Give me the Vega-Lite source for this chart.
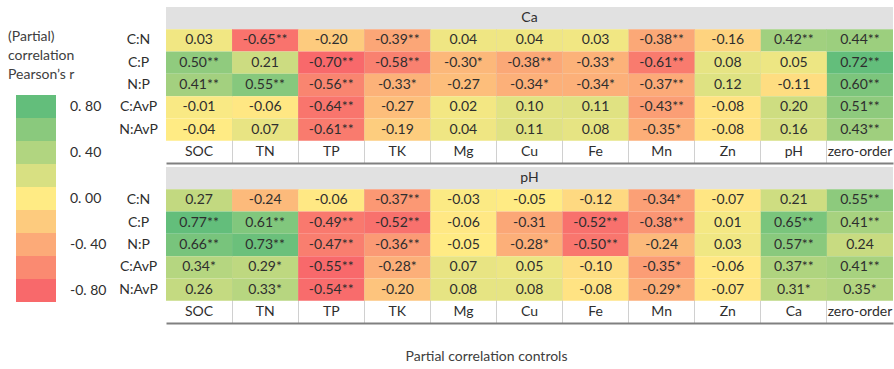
{
  "$schema": "https://vega.github.io/schema/vega-lite/v6.json",
  "background": "white",
  "padding": {"left": 8, "top": 7, "right": 1, "bottom": 5},
  "config": {
    "font": "Lato",
    "view": {"stroke": null},
    "text": {"font": "Lato", "fontSize": 14, "color": "#2e2e2e"},
    "axis": {"labelFont": "Lato"},
    "legend": {"labelFont": "Lato", "titleFont": "Lato"},
    "title": {"font": "Lato"}
  },
  "datasets": {
    "ca": [
      {"ratio": "C:N", "var": "SOC", "r": 0.03, "sig": ""},
      {"ratio": "C:N", "var": "TN", "r": -0.65, "sig": "**"},
      {"ratio": "C:N", "var": "TP", "r": -0.20, "sig": ""},
      {"ratio": "C:N", "var": "TK", "r": -0.39, "sig": "**"},
      {"ratio": "C:N", "var": "Mg", "r": 0.04, "sig": ""},
      {"ratio": "C:N", "var": "Cu", "r": 0.04, "sig": ""},
      {"ratio": "C:N", "var": "Fe", "r": 0.03, "sig": ""},
      {"ratio": "C:N", "var": "Mn", "r": -0.38, "sig": "**"},
      {"ratio": "C:N", "var": "Zn", "r": -0.16, "sig": ""},
      {"ratio": "C:N", "var": "pH", "r": 0.42, "sig": "**"},
      {"ratio": "C:N", "var": "zero-order", "r": 0.44, "sig": "**"},
      {"ratio": "C:P", "var": "SOC", "r": 0.50, "sig": "**"},
      {"ratio": "C:P", "var": "TN", "r": 0.21, "sig": ""},
      {"ratio": "C:P", "var": "TP", "r": -0.70, "sig": "**"},
      {"ratio": "C:P", "var": "TK", "r": -0.58, "sig": "**"},
      {"ratio": "C:P", "var": "Mg", "r": -0.30, "sig": "*"},
      {"ratio": "C:P", "var": "Cu", "r": -0.38, "sig": "**"},
      {"ratio": "C:P", "var": "Fe", "r": -0.33, "sig": "*"},
      {"ratio": "C:P", "var": "Mn", "r": -0.61, "sig": "**"},
      {"ratio": "C:P", "var": "Zn", "r": 0.08, "sig": ""},
      {"ratio": "C:P", "var": "pH", "r": 0.05, "sig": ""},
      {"ratio": "C:P", "var": "zero-order", "r": 0.72, "sig": "**"},
      {"ratio": "N:P", "var": "SOC", "r": 0.41, "sig": "**"},
      {"ratio": "N:P", "var": "TN", "r": 0.55, "sig": "**"},
      {"ratio": "N:P", "var": "TP", "r": -0.56, "sig": "**"},
      {"ratio": "N:P", "var": "TK", "r": -0.33, "sig": "*"},
      {"ratio": "N:P", "var": "Mg", "r": -0.27, "sig": ""},
      {"ratio": "N:P", "var": "Cu", "r": -0.34, "sig": "*"},
      {"ratio": "N:P", "var": "Fe", "r": -0.34, "sig": "*"},
      {"ratio": "N:P", "var": "Mn", "r": -0.37, "sig": "**"},
      {"ratio": "N:P", "var": "Zn", "r": 0.12, "sig": ""},
      {"ratio": "N:P", "var": "pH", "r": -0.11, "sig": ""},
      {"ratio": "N:P", "var": "zero-order", "r": 0.60, "sig": "**"},
      {"ratio": "C:AvP", "var": "SOC", "r": -0.01, "sig": ""},
      {"ratio": "C:AvP", "var": "TN", "r": -0.06, "sig": ""},
      {"ratio": "C:AvP", "var": "TP", "r": -0.64, "sig": "**"},
      {"ratio": "C:AvP", "var": "TK", "r": -0.27, "sig": ""},
      {"ratio": "C:AvP", "var": "Mg", "r": 0.02, "sig": ""},
      {"ratio": "C:AvP", "var": "Cu", "r": 0.10, "sig": ""},
      {"ratio": "C:AvP", "var": "Fe", "r": 0.11, "sig": ""},
      {"ratio": "C:AvP", "var": "Mn", "r": -0.43, "sig": "**"},
      {"ratio": "C:AvP", "var": "Zn", "r": -0.08, "sig": ""},
      {"ratio": "C:AvP", "var": "pH", "r": 0.20, "sig": ""},
      {"ratio": "C:AvP", "var": "zero-order", "r": 0.51, "sig": "**"},
      {"ratio": "N:AvP", "var": "SOC", "r": -0.04, "sig": ""},
      {"ratio": "N:AvP", "var": "TN", "r": 0.07, "sig": ""},
      {"ratio": "N:AvP", "var": "TP", "r": -0.61, "sig": "**"},
      {"ratio": "N:AvP", "var": "TK", "r": -0.19, "sig": ""},
      {"ratio": "N:AvP", "var": "Mg", "r": 0.04, "sig": ""},
      {"ratio": "N:AvP", "var": "Cu", "r": 0.11, "sig": ""},
      {"ratio": "N:AvP", "var": "Fe", "r": 0.08, "sig": ""},
      {"ratio": "N:AvP", "var": "Mn", "r": -0.35, "sig": "*"},
      {"ratio": "N:AvP", "var": "Zn", "r": -0.08, "sig": ""},
      {"ratio": "N:AvP", "var": "pH", "r": 0.16, "sig": ""},
      {"ratio": "N:AvP", "var": "zero-order", "r": 0.43, "sig": "**"}
    ],
    "ph": [
      {"ratio": "C:N", "var": "SOC", "r": 0.27, "sig": ""},
      {"ratio": "C:N", "var": "TN", "r": -0.24, "sig": ""},
      {"ratio": "C:N", "var": "TP", "r": -0.06, "sig": ""},
      {"ratio": "C:N", "var": "TK", "r": -0.37, "sig": "**"},
      {"ratio": "C:N", "var": "Mg", "r": -0.03, "sig": ""},
      {"ratio": "C:N", "var": "Cu", "r": -0.05, "sig": ""},
      {"ratio": "C:N", "var": "Fe", "r": -0.12, "sig": ""},
      {"ratio": "C:N", "var": "Mn", "r": -0.34, "sig": "*"},
      {"ratio": "C:N", "var": "Zn", "r": -0.07, "sig": ""},
      {"ratio": "C:N", "var": "Ca", "r": 0.21, "sig": ""},
      {"ratio": "C:N", "var": "zero-order", "r": 0.55, "sig": "**"},
      {"ratio": "C:P", "var": "SOC", "r": 0.77, "sig": "**"},
      {"ratio": "C:P", "var": "TN", "r": 0.61, "sig": "**"},
      {"ratio": "C:P", "var": "TP", "r": -0.49, "sig": "**"},
      {"ratio": "C:P", "var": "TK", "r": -0.52, "sig": "**"},
      {"ratio": "C:P", "var": "Mg", "r": -0.06, "sig": ""},
      {"ratio": "C:P", "var": "Cu", "r": -0.31, "sig": ""},
      {"ratio": "C:P", "var": "Fe", "r": -0.52, "sig": "**"},
      {"ratio": "C:P", "var": "Mn", "r": -0.38, "sig": "**"},
      {"ratio": "C:P", "var": "Zn", "r": 0.01, "sig": ""},
      {"ratio": "C:P", "var": "Ca", "r": 0.65, "sig": "**"},
      {"ratio": "C:P", "var": "zero-order", "r": 0.41, "sig": "**"},
      {"ratio": "N:P", "var": "SOC", "r": 0.66, "sig": "**"},
      {"ratio": "N:P", "var": "TN", "r": 0.73, "sig": "**"},
      {"ratio": "N:P", "var": "TP", "r": -0.47, "sig": "**"},
      {"ratio": "N:P", "var": "TK", "r": -0.36, "sig": "**"},
      {"ratio": "N:P", "var": "Mg", "r": -0.05, "sig": ""},
      {"ratio": "N:P", "var": "Cu", "r": -0.28, "sig": "*"},
      {"ratio": "N:P", "var": "Fe", "r": -0.50, "sig": "**"},
      {"ratio": "N:P", "var": "Mn", "r": -0.24, "sig": ""},
      {"ratio": "N:P", "var": "Zn", "r": 0.03, "sig": ""},
      {"ratio": "N:P", "var": "Ca", "r": 0.57, "sig": "**"},
      {"ratio": "N:P", "var": "zero-order", "r": 0.24, "sig": ""},
      {"ratio": "C:AvP", "var": "SOC", "r": 0.34, "sig": "*"},
      {"ratio": "C:AvP", "var": "TN", "r": 0.29, "sig": "*"},
      {"ratio": "C:AvP", "var": "TP", "r": -0.55, "sig": "**"},
      {"ratio": "C:AvP", "var": "TK", "r": -0.28, "sig": "*"},
      {"ratio": "C:AvP", "var": "Mg", "r": 0.07, "sig": ""},
      {"ratio": "C:AvP", "var": "Cu", "r": 0.05, "sig": ""},
      {"ratio": "C:AvP", "var": "Fe", "r": -0.10, "sig": ""},
      {"ratio": "C:AvP", "var": "Mn", "r": -0.35, "sig": "*"},
      {"ratio": "C:AvP", "var": "Zn", "r": -0.06, "sig": ""},
      {"ratio": "C:AvP", "var": "Ca", "r": 0.37, "sig": "**"},
      {"ratio": "C:AvP", "var": "zero-order", "r": 0.41, "sig": "**"},
      {"ratio": "N:AvP", "var": "SOC", "r": 0.26, "sig": ""},
      {"ratio": "N:AvP", "var": "TN", "r": 0.33, "sig": "*"},
      {"ratio": "N:AvP", "var": "TP", "r": -0.54, "sig": "**"},
      {"ratio": "N:AvP", "var": "TK", "r": -0.20, "sig": ""},
      {"ratio": "N:AvP", "var": "Mg", "r": 0.08, "sig": ""},
      {"ratio": "N:AvP", "var": "Cu", "r": 0.08, "sig": ""},
      {"ratio": "N:AvP", "var": "Fe", "r": -0.08, "sig": ""},
      {"ratio": "N:AvP", "var": "Mn", "r": -0.29, "sig": "*"},
      {"ratio": "N:AvP", "var": "Zn", "r": -0.07, "sig": ""},
      {"ratio": "N:AvP", "var": "Ca", "r": 0.31, "sig": "*"},
      {"ratio": "N:AvP", "var": "zero-order", "r": 0.35, "sig": "*"}
    ],
    "legendSteps": [
      {"step": 0.8}, {"step": 0.6}, {"step": 0.4}, {"step": 0.2}, {"step": 0},
      {"step": -0.2}, {"step": -0.4}, {"step": -0.6}, {"step": -0.8}
    ]
  },
  "spacing": 4,
  "resolve": {
    "scale": {"x": "independent", "y": "independent", "color": "independent"},
    "legend": {"color": "independent"}
  },
  "vconcat": [
    {
      "width": 727,
      "height": 156,
      "layer": [
        {
          "data": {"values": [{"control": "Ca"}]},
          "mark": {"type": "rect", "color": "#e1e1e1"},
          "encoding": {"y": {"datum": "hdr", "type": "nominal"}}
        },
        {
          "data": {"values": [{"control": "Ca"}]},
          "mark": {"type": "text"},
          "encoding": {
            "y": {"datum": "hdr", "type": "nominal"},
            "text": {"field": "control"}
          }
        },
        {
          "data": {"name": "ca"},
          "mark": {"type": "rect"},
          "encoding": {
            "x": {
              "field": "var", "type": "nominal", "title": null,
              "scale": {"domain": ["SOC", "TN", "TP", "TK", "Mg", "Cu", "Fe", "Mn", "Zn", "pH", "zero-order"], "paddingInner": 0, "paddingOuter": 0},
              "axis": {
                "orient": "bottom", "labels": false, "ticks": false, "zindex": 0,
                "domain": true, "domainColor": "#808080", "domainWidth": 2,
                "grid": true, "gridColor": "#d0d0d0", "gridWidth": 1, "bandPosition": 0,
                "gridOpacity": {"condition": {"test": "datum.value === 'SOC'", "value": 0}, "value": 1}
              }
            },
            "y": {
              "field": "ratio", "type": "nominal", "title": null,
              "scale": {"domain": ["hdr", "C:N", "C:P", "N:P", "C:AvP", "N:AvP", "lbl"], "paddingInner": 0, "paddingOuter": 0},
              "axis": {
                "orient": "left", "domain": false, "ticks": false, "tickSize": 0,
                "labelPadding": 28, "labelAlign": "center", "labelFontSize": 14, "labelColor": "#2e2e2e",
                "labelExpr": "datum.value === 'hdr' || datum.value === 'lbl' ? '' : datum.value"
              }
            },
            "color": {
              "field": "r", "type": "quantitative", "legend": null,
              "scale": {"domain": [-0.70, -0.04, 0.72], "range": ["#F8696B", "#FFEB84", "#63BE7B"], "interpolate": "rgb"}
            }
          }
        },
        {
          "data": {"name": "ca"},
          "transform": [{"calculate": "(datum.r < 0 ? '-' : '') + format(abs(datum.r), '.2f') + datum.sig", "as": "label"}],
          "mark": {"type": "text"},
          "encoding": {
            "x": {"field": "var", "type": "nominal"},
            "y": {"field": "ratio", "type": "nominal"},
            "text": {"field": "label"}
          }
        },
        {
          "data": {"name": "ca"},
          "transform": [{"filter": "datum.ratio === 'C:N'"}],
          "mark": {"type": "text"},
          "encoding": {
            "x": {"field": "var", "type": "nominal"},
            "y": {"datum": "lbl", "type": "nominal"},
            "text": {"field": "var"}
          }
        },
        {
          "data": {"name": "legendSteps"},
          "mark": {"type": "rect", "opacity": 0},
          "encoding": {
            "fill": {
              "field": "step", "type": "quantitative",
              "scale": {"domain": [-0.8, 0, 0.8], "range": ["#F8696B", "#FFEB84", "#63BE7B"], "interpolate": "rgb"},
              "legend": {
                "type": "symbol",
                "values": [0.8, 0.6, 0.4, 0.2, 0, -0.2, -0.4, -0.6, -0.8],
                "title": ["(Partial)", "correlation", "Pearson’s r"],
                "orient": "none", "legendX": -158, "legendY": 23,
                "padding": 0,
                "symbolType": "M-1,-0.575H1V0.575H-1Z", "symbolSize": 1600,
                "symbolStrokeWidth": 0, "symbolOpacity": 1,
                "clipHeight": 23, "rowPadding": 0, "symbolOffset": 8, "labelOffset": 14,
                "labelFontSize": 14, "labelColor": "#2e2e2e",
                "labelExpr": "indexof([0.8, 0.4, 0, -0.4, -0.8], datum.value) >= 0 ? (datum.value < 0 ? '-' : '') + replace(format(abs(datum.value), '.2f'), '.', '. ') : ''",
                "titleFontSize": 14, "titleFontWeight": "normal", "titleColor": "#404040",
                "titleLineHeight": 19, "titlePadding": 13
              }
            }
          }
        }
      ]
    },
    {
      "width": 727,
      "height": 156,
      "title": {
        "text": "Partial correlation controls", "orient": "bottom", "frame": "group",
        "fontSize": 14, "fontWeight": "normal", "color": "#404040", "offset": 27, "dx": -43
      },
      "layer": [
        {
          "data": {"values": [{"control": "pH"}]},
          "mark": {"type": "rect", "color": "#e1e1e1"},
          "encoding": {"y": {"datum": "hdr", "type": "nominal"}}
        },
        {
          "data": {"values": [{"control": "pH"}]},
          "mark": {"type": "text"},
          "encoding": {
            "y": {"datum": "hdr", "type": "nominal"},
            "text": {"field": "control"}
          }
        },
        {
          "data": {"name": "ph"},
          "mark": {"type": "rect"},
          "encoding": {
            "x": {
              "field": "var", "type": "nominal", "title": null,
              "scale": {"domain": ["SOC", "TN", "TP", "TK", "Mg", "Cu", "Fe", "Mn", "Zn", "Ca", "zero-order"], "paddingInner": 0, "paddingOuter": 0},
              "axis": {
                "orient": "bottom", "labels": false, "ticks": false, "zindex": 0,
                "domain": true, "domainColor": "#808080", "domainWidth": 2,
                "grid": true, "gridColor": "#d0d0d0", "gridWidth": 1, "bandPosition": 0,
                "gridOpacity": {"condition": {"test": "datum.value === 'SOC'", "value": 0}, "value": 1}
              }
            },
            "y": {
              "field": "ratio", "type": "nominal", "title": null,
              "scale": {"domain": ["hdr", "C:N", "C:P", "N:P", "C:AvP", "N:AvP", "lbl"], "paddingInner": 0, "paddingOuter": 0},
              "axis": {
                "orient": "left", "domain": false, "ticks": false, "tickSize": 0,
                "labelPadding": 28, "labelAlign": "center", "labelFontSize": 14, "labelColor": "#2e2e2e",
                "labelExpr": "datum.value === 'hdr' || datum.value === 'lbl' ? '' : datum.value"
              }
            },
            "color": {
              "field": "r", "type": "quantitative", "legend": null,
              "scale": {"domain": [-0.55, -0.05, 0.77], "range": ["#F8696B", "#FFEB84", "#63BE7B"], "interpolate": "rgb"}
            }
          }
        },
        {
          "data": {"name": "ph"},
          "transform": [{"calculate": "(datum.r < 0 ? '-' : '') + format(abs(datum.r), '.2f') + datum.sig", "as": "label"}],
          "mark": {"type": "text"},
          "encoding": {
            "x": {"field": "var", "type": "nominal"},
            "y": {"field": "ratio", "type": "nominal"},
            "text": {"field": "label"}
          }
        },
        {
          "data": {"name": "ph"},
          "transform": [{"filter": "datum.ratio === 'C:N'"}],
          "mark": {"type": "text"},
          "encoding": {
            "x": {"field": "var", "type": "nominal"},
            "y": {"datum": "lbl", "type": "nominal"},
            "text": {"field": "var"}
          }
        }
      ]
    }
  ]
}
